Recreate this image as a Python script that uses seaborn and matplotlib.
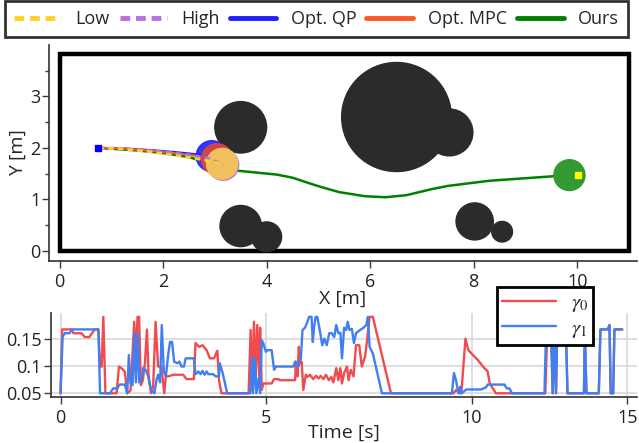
import numpy as np
import pandas as pd
import matplotlib.pyplot as plt
import seaborn as sns
from matplotlib.patches import Circle, Rectangle
from matplotlib.lines import Line2D

# ---- map data ----
obs_x = [3.5, 6.51, 7.53, 3.5, 4.0, 8.02, 8.55]
obs_y = [2.4, 2.6, 2.3, 0.48, 0.27, 0.57, 0.37]
obs_r = [0.5, 1.06, 0.455, 0.4, 0.29, 0.36, 0.2]

start = (0.75, 2.0)
goal = (9.85, 1.47)
goal_marker = (10.02, 1.47)
robot_r = 0.3

low_x = [0.75, 1.2, 1.7, 2.2, 2.6, 2.9, 3.14]
low_y = [2.0, 1.98, 1.93, 1.86, 1.8, 1.74, 1.69]
high_x = [0.75, 1.2, 1.7, 2.2, 2.6, 2.9, 3.16]
high_y = [2.0, 1.99, 1.95, 1.9, 1.85, 1.79, 1.67]
qp_x = [0.75, 1.2, 1.7, 2.2, 2.6, 2.94]
qp_y = [2.0, 1.99, 1.96, 1.92, 1.88, 1.84]
mpc_x = [0.75, 1.2, 1.7, 2.2, 2.6, 3.04]
mpc_y = [2.0, 1.99, 1.95, 1.9, 1.85, 1.78]
ours_x = [0.75, 1.5, 2.0, 2.5, 3.0, 3.4, 3.8, 4.2, 4.5, 4.8, 5.05, 5.4, 5.9,
          6.3, 6.7, 7.2, 7.5, 8.3, 9.0, 9.85]
ours_y = [2.0, 1.95, 1.9, 1.82, 1.67, 1.56, 1.52, 1.48, 1.42, 1.32, 1.24, 1.14,
          1.06, 1.04, 1.08, 1.2, 1.26, 1.36, 1.41, 1.47]

# ---- gamma data ----
g0_t = [0.0, 0.04, 0.27, 0.31, 0.51, 0.59, 0.70, 0.83, 0.92, 0.96, 1.0, 1.04,
        1.09, 1.36, 1.42, 1.48, 1.56, 1.62, 1.70, 1.79, 1.83, 1.87, 1.91, 1.95,
        2.0, 2.05, 2.1, 2.14, 2.2, 2.25, 2.31, 2.37, 2.45, 2.52, 2.56, 2.62,
        2.74, 2.98, 3.06, 3.24, 3.28, 3.37, 3.45, 3.55, 3.63, 3.73, 3.81, 3.85,
        3.91, 4.57, 4.62, 4.65, 4.70, 4.74, 4.78, 4.83, 4.85, 4.89, 4.93, 5.13,
        5.19, 5.29, 5.33, 5.70, 5.72, 5.76, 5.79, 5.82, 5.86, 5.90, 5.96, 6.0,
        6.06, 6.14, 6.21, 6.27, 6.32, 6.39, 6.45, 6.52, 6.58, 6.63, 6.70, 6.75,
        6.80, 6.84, 6.89, 6.96, 7.0, 7.05, 7.12, 7.18, 7.26, 7.32, 7.40, 7.44,
        7.51, 7.59, 8.03, 9.55, 9.61, 9.70, 9.74, 9.84, 9.91, 10.01, 10.14,
        10.30, 10.38, 10.43, 10.58, 11.78, 11.83, 11.92, 11.96, 12.0, 12.04,
        12.07, 12.28, 12.32, 12.72, 12.74, 12.78, 13.08, 13.12, 13.30, 13.34,
        13.37, 13.43, 13.46, 13.65]
g0 = [0.05, 0.167, 0.167, 0.16, 0.16, 0.153, 0.153, 0.167, 0.167, 0.099, 0.099,
      0.19, 0.05, 0.05, 0.099, 0.096, 0.09, 0.05, 0.055, 0.181, 0.111, 0.19,
      0.19, 0.065, 0.074, 0.105, 0.167, 0.081, 0.05, 0.062, 0.181, 0.099, 0.099,
      0.05, 0.081, 0.081, 0.084, 0.084, 0.076, 0.076, 0.142, 0.135, 0.138,
      0.129, 0.114, 0.114, 0.128, 0.074, 0.05, 0.05, 0.166, 0.056, 0.181, 0.074,
      0.175, 0.074, 0.17, 0.056, 0.068, 0.068, 0.076, 0.076, 0.074, 0.074,
      0.108, 0.081, 0.135, 0.105, 0.108, 0.056, 0.084, 0.08, 0.084, 0.076,
      0.082, 0.077, 0.082, 0.076, 0.084, 0.074, 0.08, 0.07, 0.096, 0.074, 0.096,
      0.068, 0.087, 0.099, 0.074, 0.093, 0.081, 0.138, 0.138, 0.099, 0.117,
      0.141, 0.19, 0.19, 0.05, 0.05, 0.056, 0.05, 0.05, 0.15, 0.129, 0.121,
      0.111, 0.096, 0.09, 0.068, 0.05, 0.05, 0.167, 0.167, 0.05, 0.167, 0.05,
      0.167, 0.167, 0.05, 0.05, 0.167, 0.05, 0.05, 0.167, 0.167, 0.175, 0.05,
      0.05, 0.167, 0.167]

g1_t = [0.0, 0.05, 0.10, 0.22, 0.27, 0.92, 0.96, 1.2, 1.28, 1.38, 1.43, 1.56,
        1.62, 1.66, 1.70, 1.75, 1.80, 1.83, 1.88, 1.91, 1.97, 2.0, 2.07, 2.13,
        2.2, 2.28, 2.33, 2.37, 2.42, 2.46, 2.51, 2.56, 2.62, 2.66, 2.71, 2.76,
        2.84, 2.89, 2.94, 3.0, 3.04, 3.24, 3.28, 3.35, 3.40, 3.45, 3.50, 3.55,
        3.59, 3.71, 3.77, 3.85, 3.87, 3.94, 4.05, 4.61, 4.65, 4.68, 4.72, 4.76,
        4.81, 4.85, 4.89, 4.93, 4.99, 5.03, 5.13, 5.19, 5.23, 5.66, 5.70, 5.74,
        5.78, 5.84, 5.88, 5.94, 6.0, 6.04, 6.10, 6.13, 6.16, 6.20, 6.24, 6.31,
        6.36, 6.41, 6.47, 6.53, 6.59, 6.65, 6.70, 6.75, 6.80, 6.84, 6.89, 6.94,
        6.98, 7.02, 7.08, 7.13, 7.18, 7.28, 7.36, 7.43, 7.47, 7.51, 7.59, 7.81,
        9.51, 9.56, 9.61, 9.67, 9.71, 9.75, 9.86, 10.22, 10.34, 10.38, 10.79,
        10.84, 10.91, 10.97, 11.76, 11.80, 11.92, 11.96, 12.0, 12.04, 12.07,
        12.28, 12.32, 12.72, 12.74, 12.78, 13.08, 13.12, 13.30, 13.34, 13.37,
        13.43, 13.46, 13.65]
g1 = [0.05, 0.153, 0.16, 0.16, 0.167, 0.167, 0.05, 0.05, 0.059, 0.059, 0.066,
      0.066, 0.05, 0.12, 0.068, 0.065, 0.16, 0.07, 0.16, 0.07, 0.074, 0.096,
      0.093, 0.081, 0.056, 0.05, 0.074, 0.084, 0.07, 0.175, 0.09, 0.081, 0.123,
      0.144, 0.144, 0.108, 0.105, 0.108, 0.099, 0.099, 0.114, 0.114, 0.085,
      0.09, 0.085, 0.091, 0.084, 0.09, 0.085, 0.085, 0.081, 0.081, 0.105, 0.087,
      0.05, 0.05, 0.114, 0.05, 0.114, 0.05, 0.077, 0.05, 0.147, 0.141, 0.126,
      0.129, 0.129, 0.093, 0.099, 0.099, 0.108, 0.105, 0.099, 0.114, 0.166,
      0.17, 0.181, 0.19, 0.19, 0.144, 0.17, 0.19, 0.19, 0.161, 0.138, 0.15,
      0.138, 0.16, 0.16, 0.153, 0.175, 0.16, 0.161, 0.114, 0.17, 0.166, 0.181,
      0.166, 0.168, 0.142, 0.16, 0.166, 0.17, 0.175, 0.19, 0.135, 0.123, 0.05,
      0.05, 0.087, 0.074, 0.05, 0.062, 0.05, 0.057, 0.057, 0.061, 0.066, 0.066,
      0.059, 0.059, 0.05, 0.05, 0.167, 0.167, 0.05, 0.167, 0.05, 0.167, 0.167,
      0.05, 0.05, 0.167, 0.05, 0.05, 0.167, 0.167, 0.175, 0.05, 0.05, 0.167,
      0.167]

time_ticks = [0, 5, 10, 13.77]
time_labels = ['0', '5', '10', '15']

sns.set_theme(style='ticks')
plt.rcParams['font.family'] = ['Open Sans', 'DejaVu Sans']
plt.rcParams['mathtext.fontset'] = 'stix'
plt.rcParams['axes.edgecolor'] = '#3a3a3a'
plt.rcParams['xtick.color'] = '#3a3a3a'
plt.rcParams['ytick.color'] = '#3a3a3a'
plt.rcParams['xtick.labelcolor'] = '#222222'
plt.rcParams['ytick.labelcolor'] = '#222222'

c_low, c_high = '#ffd21f', '#b770dd'
c_qp, c_mpc, c_ours = '#2020ff', '#ff5722', '#008000'

fig = plt.figure(figsize=(6.39, 4.43), dpi=100)
ax = fig.add_axes([0.077, 0.4108, 0.9194, 0.4876])
ax2 = fig.add_axes([0.0793, 0.1038, 0.917, 0.1896])

# ---- top: map ----
ax.add_patch(Rectangle((0, 0), 11.0, 3.82, fill=False, ec='black', lw=3.2, zorder=1))
for x, y, r in zip(obs_x, obs_y, obs_r):
    ax.add_patch(Circle((x, y), r, color='#2b2b2b', zorder=2))

sns.lineplot(x=ours_x, y=ours_y, sort=False, estimator=None, color=c_ours, lw=1.8, ax=ax, zorder=3)
sns.lineplot(x=qp_x, y=qp_y, sort=False, estimator=None, color=c_qp, lw=1.6, ax=ax, zorder=3)
sns.lineplot(x=mpc_x, y=mpc_y, sort=False, estimator=None, color=c_mpc, lw=1.6, ax=ax, zorder=3)

ax.add_patch(Circle(goal, robot_r, color='#339933', zorder=4))
ax.add_patch(Circle((qp_x[-1], qp_y[-1]), robot_r, color=c_qp, alpha=0.9, zorder=4))
ax.add_patch(Circle((mpc_x[-1], mpc_y[-1]), robot_r, color='#d9483a', alpha=0.92, zorder=4))
ax.add_patch(Circle((high_x[-1], high_y[-1]), robot_r, color=c_high, alpha=0.9, zorder=4))
ax.add_patch(Circle((low_x[-1], low_y[-1]), robot_r, color='#f5c457', alpha=0.95, zorder=4))

sns.lineplot(x=high_x, y=high_y, sort=False, estimator=None, color=c_high, lw=2.0,
             ls=(0, (2, 1.5)), ax=ax, zorder=5)
sns.lineplot(x=low_x, y=low_y, sort=False, estimator=None, color=c_low, lw=2.0,
             ls=(0, (2, 1.5)), ax=ax, zorder=5)

ax.plot(*start, marker='s', ms=5, color='#0000ff', zorder=6, ls='none')
ax.plot(*goal_marker, marker='s', ms=5, color='#ffff00', zorder=6, ls='none')

ax.set_xlim(-0.2, 11.15)
ax.set_ylim(-0.2, 4.0)
ax.set_xticks([0, 2, 4, 6, 8, 10])
ax.set_yticks([0, 1, 2, 3])
ax.set_yticks([0.5, 1.5, 2.5, 3.5], minor=True)
ax.tick_params(labelsize=13, length=5, width=1)
ax.tick_params(axis='y', pad=1.5)
ax.tick_params(which='minor', length=3, width=1)
ax.set_xlabel('X [m]', fontsize=14, labelpad=-1)
ax.set_ylabel('Y [m]', fontsize=14, labelpad=2)
sns.despine(ax=ax)

# ---- bottom: gammas ----
sns.lineplot(x=g0_t, y=g0, sort=False, estimator=None, color='#f04b4f', lw=1.7, ax=ax2,
             label=r'$\gamma_0$')
sns.lineplot(x=g1_t, y=g1, sort=False, estimator=None, color='#3f7ff2', lw=1.7, ax=ax2,
             label=r'$\gamma_1$')
ax2.set_xlim(-0.24, 14.0)
ax2.set_ylim(0.0432, 0.197)
ax2.set_xticks(time_ticks)
ax2.set_xticklabels(time_labels)
ax2.set_yticks([0.05, 0.1, 0.15])
ax2.set_yticklabels(['0.05', '0.1', '0.15'])
ax2.grid(True, color='#d8d8d8', lw=1.2)
ax2.set_axisbelow(True)
ax2.tick_params(labelsize=13, length=5, width=1)
ax2.tick_params(axis='y', pad=1.5)
ax2.set_xlabel('Time [s]', fontsize=14, labelpad=-2)
ax2.set_ylabel('')
sns.despine(ax=ax2)
leg2 = ax2.legend(loc='upper right', bbox_to_anchor=(0.9285, 0.3515),
                  bbox_transform=fig.transFigure, fontsize=15, frameon=True,
                  fancybox=False, handlelength=2.6, borderpad=0.25,
                  labelspacing=0.15, handletextpad=0.7, borderaxespad=0)
leg2.get_frame().set_edgecolor('black')
leg2.get_frame().set_linewidth(2.0)
leg2.get_frame().set_alpha(1)

# ---- top legend ----
handles = [
    Line2D([], [], color=c_low, lw=3.5, ls=(0, (2.0, 1.2))),
    Line2D([], [], color=c_high, lw=3.5, ls=(0, (2.0, 1.2))),
    Line2D([], [], color=c_qp, lw=3.5),
    Line2D([], [], color=c_mpc, lw=3.5),
    Line2D([], [], color=c_ours, lw=3.5),
]
labels = ['Low', 'High', 'Opt. QP', 'Opt. MPC', 'Ours']
leg = fig.legend(handles, labels, loc='upper left', bbox_to_anchor=(0.008, 0.997),
                 ncol=5, fontsize=13, frameon=True, fancybox=False,
                 handlelength=2.6, handletextpad=0.8, columnspacing=0.55,
                 borderpad=0.5, borderaxespad=0)
leg.get_frame().set_edgecolor('black')
leg.get_frame().set_linewidth(2.0)

fig.savefig('out.png', dpi=100)
